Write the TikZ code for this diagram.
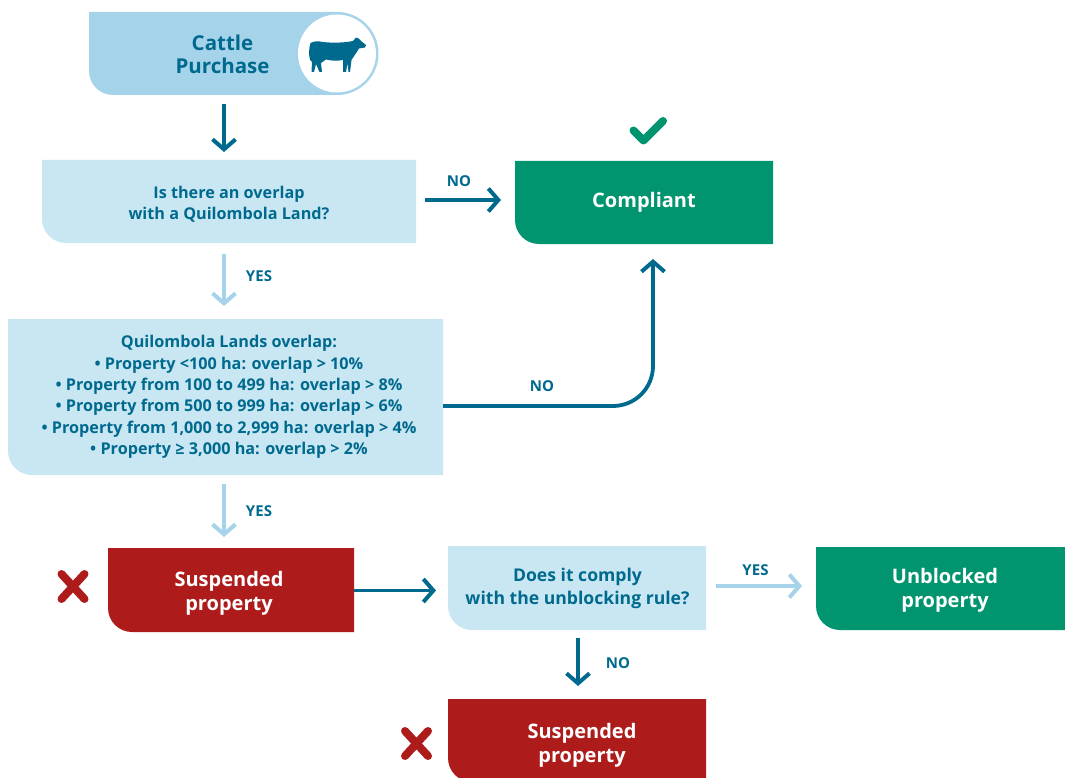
\documentclass[tikz,border=0pt]{standalone}
\usepackage{fontspec}
\setmainfont{Open Sans}
\usetikzlibrary{arrows.meta,calc}
\definecolor{dkblue}{HTML}{006A8E}
\definecolor{midblue}{HTML}{A5D3EA}
\definecolor{paleblue}{HTML}{C9E7F3}
\definecolor{dkgreen}{HTML}{00956E}
\definecolor{dkred}{HTML}{AD1C1A}
\tikzset{
  x=1pt,y=-1pt,
  boxtext/.style={inner sep=0pt,align=center,text=dkblue},
  bigdark/.style={font=\fontsize{20.5}{23}\selectfont\bfseries,text=dkblue},
  bigwhite/.style={font=\fontsize{20}{24}\selectfont\bfseries,text=white},
  smalltext/.style={font=\fontsize{16.2}{21.4}\selectfont\bfseries},
  midtext/.style={font=\fontsize{17.6}{23}\selectfont\bfseries},
  lab/.style={inner sep=0pt,font=\fontsize{15}{15}\selectfont\bfseries,text=dkblue},
  darrow/.style={draw=dkblue,line width=3.8pt,-{Straight Barb[length=10pt,width=23pt,line width=4pt]}},
  larrow/.style={draw=midblue,line width=3.8pt,-{Straight Barb[length=10pt,width=23pt,line width=4pt]}},
  mark1/.style={line width=8pt,line cap=round,line join=round},
}
% name, x0, y0, x1, y1, fill, radius
\newcommand{\flowfill}[7]{%
  \fill[#6] (#2,#3) -- (#4,#3) -- (#4,#5) -- (#2+#7,#5) arc[start angle=90,end angle=180,radius=#7] -- cycle;
  \node[inner sep=0pt,minimum width=#4pt-#2pt,minimum height=#5pt-#3pt] (#1) at ({(#2+#4)/2},{(#3+#5)/2}) {};
}
\begin{document}
\begin{tikzpicture}
\useasboundingbox (0,0) rectangle (1065,778);
% start box
\fill[midblue] (89,12) -- (337,12) arc[start angle=-90,end angle=90,radius=41.5] -- (113,95) arc[start angle=90,end angle=180,radius=24] -- cycle;
\node[inner sep=0pt,minimum width=248pt,minimum height=83pt] (start) at (213,53.5) {};
\fill[white] (337,53.5) circle[radius=39];
\node[inner sep=0pt,align=center,bigdark] (starttext) at (222.5,54.5) {Cattle\\Purchase};
\fill[dkblue] (310.5,43) .. controls (314,41) and (318,41) .. (323,42) .. controls (332,43) and (343,43) .. (353,41)
 -- (356,37.5) -- (358.5,38.5) -- (361,41) -- (366,45) -- (365,47.5) -- (359,48.5)
 .. controls (357,52) and (354,56) .. (351.5,60) -- (350,72) -- (348.5,72) -- (347.5,63) -- (346,72) -- (343,72) -- (343,60)
 .. controls (337,61) and (332,61) .. (326,59.5) -- (321,63) -- (322,72) -- (319.5,72) -- (316,64) -- (314,72) -- (311.5,72) -- (312,62) -- (310,60) .. controls (308.5,54) and (309,48) .. (310.5,43) -- cycle;

\flowfill{q1}{42}{160}{416}{243}{paleblue}{24}
\node[boxtext,smalltext] (q1t) at (229,204) {Is there an overlap\\with a Quilombola Land?};
\flowfill{comp}{515}{161}{773}{244}{dkgreen}{24}
\node[inner sep=0pt,bigwhite] (compt) at (644,202.5) {Compliant};
\flowfill{q2}{8}{319}{443}{475}{paleblue}{24}
\node[boxtext,smalltext] (q2t) at (229,397) {Quilombola Lands overlap:\\
• Property <100 ha: overlap > 10\%\\
• Property from 100 to 499 ha: overlap > 8\%\\
• Property from 500 to 999 ha: overlap > 6\%\\
• Property from 1,000 to 2,999 ha: overlap > 4\%\\
• Property ≥ 3,000 ha: overlap > 2\%};
\flowfill{susp}{108}{548}{354}{632}{dkred}{24}
\node[inner sep=0pt,align=center,bigwhite] (suspt) at (229,593.5) {Suspended\\property};
\flowfill{q3}{448}{546}{706}{630}{paleblue}{24}
\node[boxtext,midtext] (q3t) at (577.5,588) {Does it comply\\with the unblocking rule?};
\flowfill{unb}{816}{547}{1065}{630}{dkgreen}{24}
\node[inner sep=0pt,align=center,bigwhite] (unbt) at (945,590) {Unblocked\\property};
\flowfill{susp2}{448}{699}{706}{782}{dkred}{24}
\node[inner sep=0pt,align=center,bigwhite] (susp2t) at (582,745.5) {Suspended\\property};

% connectors
\coordinate (c1) at (224,104);
\coordinate (c1e) at (224,152);
\draw[darrow] (c1) -- (c1e);
\coordinate (c2) at (425,200);
\coordinate (c2e) at (501,200);
\draw[darrow] (c2) -- (c2e);
\coordinate (c3) at (224,254);
\coordinate (c3e) at (224,306);
\draw[larrow] (c3) -- (c3e);
\coordinate (c4e) at (653,259);
\draw[darrow,rounded corners=40pt] (q2.east |- 0,406) -- (653,406) -- (c4e);
\coordinate (c5) at (224,484);
\coordinate (c5e) at (224,537);
\draw[larrow] (c5) -- (c5e);
\draw[darrow] (susp.east |- 0,590.5) -- (436,590.5);
\coordinate (c7) at (716,586);
\coordinate (c7e) at (802,586);
\draw[larrow] (c7) -- (c7e);
\coordinate (c8) at (578,638);
\coordinate (c8e) at (578,686);
\draw[darrow] (c8) -- (c8e);

% labels
\node[lab] (l1) at (459,181.5) {NO};
\node[lab] (l2) at (259,276) {YES};
\node[lab] (l3) at (542,386) {NO};
\node[lab] (l4) at (259,511) {YES};
\node[lab] (l5) at (755.5,570) {YES};
\node[lab] (l6) at (618,663) {NO};

% marks
\draw[mark1,dkgreen] (633.5,130.5) -- (643.5,140.5) -- (663,121);
\draw[mark1,dkred] (61.5,574) -- (84.5,599) (84.5,574) -- (61.5,599);
\draw[mark1,dkred] (405,731) -- (428,756) (428,731) -- (405,756);
\end{tikzpicture}
\end{document}
